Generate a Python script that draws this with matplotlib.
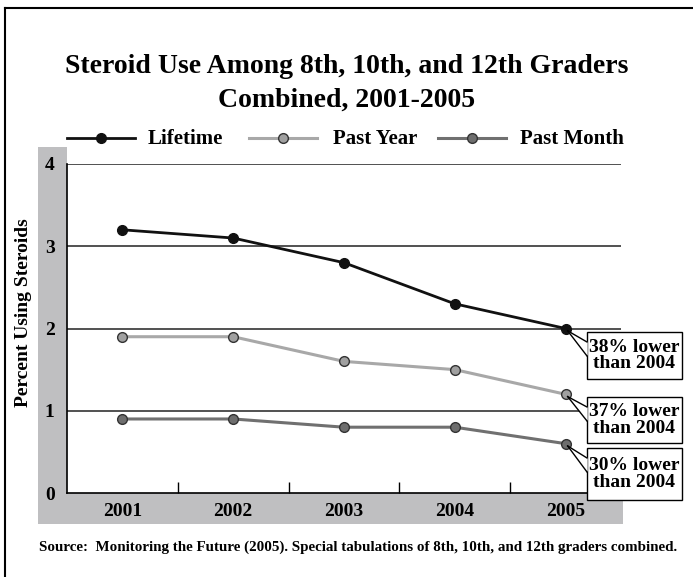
import matplotlib
matplotlib.use("Agg")
import matplotlib.pyplot as plt
from matplotlib.lines import Line2D
from matplotlib.patches import Rectangle, Polygon

years = ["2001", "2002", "2003", "2004", "2005"]
lifetime = [3.2, 3.1, 2.8, 2.3, 2.0]
past_year = [1.9, 1.9, 1.6, 1.5, 1.2]
past_month = [0.9, 0.9, 0.8, 0.8, 0.6]
notes = ["38% lower\nthan 2004", "37% lower\nthan 2004", "30% lower\nthan 2004"]

W, H = 693, 577
FONT = "Liberation Serif"
plt.rcParams["font.family"] = FONT
plt.rcParams["font.weight"] = "bold"


def fx(px):
    return px / W


def fy(py):
    return 1 - py / H


fig = plt.figure(figsize=(W / 100, H / 100), dpi=100)

# outer frame (left and top edges visible)
fig.add_artist(Line2D([fx(5), fx(5)], [fy(8), 0], color="black", lw=1.5))
fig.add_artist(Line2D([fx(5), 1], [fy(8), fy(8)], color="black", lw=1.5))

# gray bands behind tick labels
gray = "#bfbfc1"
fig.add_artist(Rectangle((fx(38), fy(524)), fx(67) - fx(38), fy(147) - fy(524),
                         transform=fig.transFigure, color=gray, lw=0, zorder=0))
fig.add_artist(Rectangle((fx(38), fy(524)), fx(623) - fx(38), fy(493) - fy(524),
                         transform=fig.transFigure, color=gray, lw=0, zorder=0))

ax = fig.add_axes([fx(67), fy(493), fx(621) - fx(67), fy(164) - fy(493)])
ax.set_facecolor("white")
x = list(range(len(years)))

ax.set_xlim(-0.5, len(years) - 0.5)
ax.set_ylim(0, 4)
for v in [1, 2, 3, 4]:
    ax.axhline(v, color="#222222", lw=1.1, zorder=1)

styles = [
    (lifetime, "#111111", "#111111", "#111111", 2.0),
    (past_year, "#a8a8a8", "#a0a0a0", "#333333", 2.2),
    (past_month, "#707070", "#6e6e6e", "#333333", 2.2),
]
for vals, lc, fc, ec, lw in styles:
    ax.plot(x, vals, color=lc, lw=lw, marker="o", ms=7,
            mfc=fc, mec=ec, mew=1, zorder=4)

for s in ["top", "right"]:
    ax.spines[s].set_visible(False)
ax.spines["left"].set_linewidth(1.2)
ax.spines["bottom"].set_linewidth(1.2)

ax.set_yticks([0, 1, 2, 3, 4])
ax.set_yticklabels(["0", "1", "2", "3", "4"], fontsize=14, fontweight="bold")
ax.tick_params(axis="y", length=0, pad=9)
ax.set_xticks(x)
ax.set_xticklabels(years, fontsize=14, fontweight="bold")
ax.tick_params(axis="x", which="major", length=0, pad=7)
ax.set_xticks([i + 0.5 for i in x[:-1]], minor=True)
ax.tick_params(axis="x", which="minor", direction="in", length=8, width=1)

fig.text(fx(24), fy(313), "Percent Using Steroids", rotation=90,
         ha="center", va="center", fontsize=14, fontweight="bold")

fig.text(fx(347), fy(73), "Steroid Use Among 8th, 10th, and 12th Graders",
         ha="center", va="baseline", fontsize=20, fontweight="bold")
fig.text(fx(347), fy(107), "Combined, 2001-2005",
         ha="center", va="baseline", fontsize=20, fontweight="bold")

# legend drawn by hand
legend = [("Lifetime", 67, 148), ("Past Year", 249, 333),
          ("Past Month", 438, 520)]
for (name, x0, tx), (_, lc, fc, ec, lw) in zip(legend, styles):
    fig.add_artist(Line2D([fx(x0), fx(x0 + 34), fx(x0 + 68)],
                          [fy(138)] * 3, color=lc, lw=lw, marker="o",
                          markevery=[1], ms=7, mfc=fc, mec=ec, mew=1,
                          transform=fig.transFigure))
    fig.text(fx(tx), fy(144), name, ha="left", va="baseline",
             fontsize=15, fontweight="bold")

fig.text(fx(358), fy(547),
         "Source:  Monitoring the Future (2005). Special tabulations of 8th, "
         "10th, and 12th graders combined.",
         ha="center", va="center", fontsize=10.8, fontweight="bold")

# callout boxes
fig.canvas.draw()
boxes = [(332, 379), (397, 443), (448, 500)]
series_last = [lifetime[-1], past_year[-1], past_month[-1]]
for note, (top, bot), val in zip(notes, boxes, series_last):
    px, py = ax.transData.transform((x[-1], val))
    tip = (px / W + 0.003, py / H - 0.004)
    left = fx(587)
    fig.add_artist(Rectangle((left, fy(bot)), fx(682) - left, fy(top) - fy(bot),
                             transform=fig.transFigure, facecolor="white",
                             edgecolor="black", lw=1, zorder=5))
    b1 = fy(top + 10)
    b2 = fy(top + 24)
    fig.add_artist(Polygon([tip, (left + 0.001, b1), (left + 0.001, b2)],
                           closed=True, transform=fig.transFigure,
                           facecolor="white", edgecolor="none", zorder=6))
    fig.add_artist(Line2D([tip[0], left], [tip[1], b1], color="black", lw=1,
                          zorder=7, transform=fig.transFigure))
    fig.add_artist(Line2D([tip[0], left], [tip[1], b2], color="black", lw=1,
                          zorder=7, transform=fig.transFigure))
    fig.text((left + fx(682)) / 2, (fy(top) + fy(bot)) / 2, note,
             ha="center", va="center", fontsize=14, fontweight="bold",
             linespacing=1.0, zorder=8)

fig.savefig("out.png", dpi=100)
